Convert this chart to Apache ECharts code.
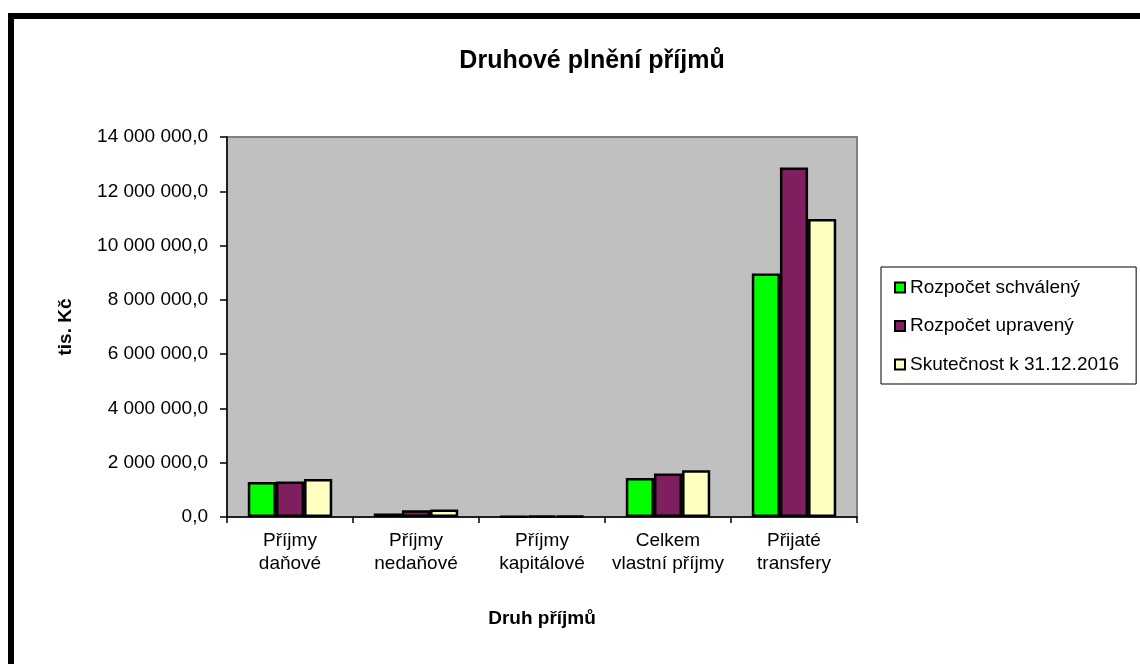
<!DOCTYPE html>
<html>
<head>
<meta charset="utf-8">
<script src="https://cdn.jsdelivr.net/npm/echarts@6/dist/echarts.min.js"></script>
<style>
html,body{margin:0;padding:0;background:#fff;}
#chart{width:1140px;height:664px;}
</style>
</head>
<body>
<div id="chart"></div>
<script>
const categories = ['Příjmy\ndaňové', 'Příjmy\nnedaňové', 'Příjmy\nkapitálové', 'Celkem\nvlastní příjmy', 'Přijaté\ntransfery'];
const seriesNames = ['Rozpočet schválený', 'Rozpočet upravený', 'Skutečnost k 31.12.2016'];
const schvaleny = [1290000, 130000, 15000, 1440000, 8970000];
const upraveny = [1310000, 250000, 40000, 1600000, 12880000];
const skutecnost = [1400000, 280000, 38000, 1720000, 10980000];
const yMin = 0, yMax = 14000000, yStep = 2000000;

const FONT = '"Liberation Sans", Arial, sans-serif';
const colors = ['#00FF00', '#7F1F5F', '#FFFFC0'];

function fmt(v) {
  const s = Math.round(v).toString().replace(/\B(?=(\d{3})+(?!\d))/g, ' ');
  return s + ',0';
}

const chart = echarts.init(document.getElementById('chart'));
const values = [schvaleny, upraveny, skutecnost];

chart.setOption({
  animation: false,
  backgroundColor: '#fff',
  textStyle: { fontFamily: FONT },
  title: {
    text: 'Druhové plnění příjmů',
    left: 587, top: 44, textAlign: 'center',
    textStyle: { fontFamily: FONT, fontSize: 25, fontWeight: 'bold', color: '#000' }
  },
  graphic: [{
    type: 'rect', silent: true, z: 100,
    shape: { x: 11, y: 16, width: 1200, height: 700 },
    style: { fill: 'none', stroke: '#000', lineWidth: 6 }
  }],
  legend: {
    orient: 'vertical', left: 881, top: 267,
    padding: [11, 17, 10, 13],
    itemGap: 19.5, itemWidth: 10, itemHeight: 10,
    borderColor: '#000', borderWidth: 1, backgroundColor: '#fff',
    icon: 'rect',
    itemStyle: { borderColor: '#000', borderWidth: 2 },
    textStyle: { fontFamily: FONT, fontSize: 19, color: '#000', lineHeight: 19, padding: [0,0,0,0] },
    data: seriesNames
  },
  grid: {
    left: 227, top: 137, right: 283, bottom: 147,
    show: true, backgroundColor: '#C0C0C0', borderColor: '#808080', borderWidth: 2
  },
  xAxis: {
    type: 'category', data: categories,
    name: 'Druh příjmů', nameLocation: 'middle', nameGap: 92,
    nameTextStyle: { fontFamily: FONT, fontSize: 19, fontWeight: 'bold', color: '#000' },
    axisLine: { lineStyle: { color: '#000', width: 1.5 } },
    axisTick: { show: true, length: 6, lineStyle: { color: '#000', width: 1.5 } },
    axisLabel: { fontFamily: FONT, fontSize: 19, lineHeight: 23, color: '#000', margin: 12, interval: 0 }
  },
  yAxis: {
    type: 'value', min: yMin, max: yMax, interval: yStep,
    name: 'tis. Kč', nameLocation: 'middle', nameGap: 152, nameRotate: 90,
    nameTextStyle: { fontFamily: FONT, fontSize: 19, fontWeight: 'bold', color: '#000' },
    axisLine: { show: true, lineStyle: { color: '#000', width: 1.5 } },
    axisTick: { show: true, length: 7, lineStyle: { color: '#000', width: 1.5 } },
    splitLine: { show: false },
    axisLabel: { fontFamily: FONT, fontSize: 19, color: '#000', margin: 19, formatter: fmt }
  },
  series: seriesNames.map((n, i) => ({
    name: n, type: 'bar', data: values[i],
    barGap: '0%', barCategoryGap: '33%',
    itemStyle: { color: colors[i], borderColor: '#000', borderWidth: 2.5 }
  }))
});
</script>
</body>
</html>
